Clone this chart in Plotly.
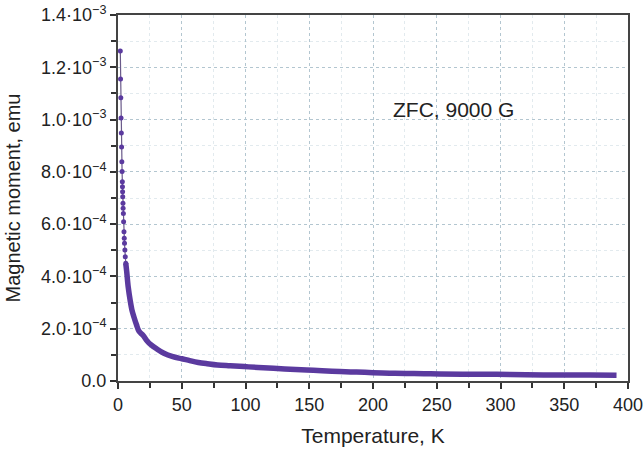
import plotly.graph_objects as go

# Low-temperature discrete points (K, emu)
t_low = [1.8, 2.0, 2.2, 2.4, 2.6, 2.8, 3.0, 3.2, 3.4, 3.5, 3.6, 3.7, 3.9, 4.0, 4.2,
         4.4, 4.7, 4.9, 5.1, 5.4, 5.7, 6.1]
m_low = [1.262e-3, 1.155e-3, 1.083e-3, 1.006e-3, 0.949e-3, 0.895e-3, 0.839e-3,
         0.801e-3, 0.762e-3, 0.743e-3, 0.724e-3, 0.705e-3, 0.680e-3, 0.661e-3,
         0.641e-3, 0.609e-3, 0.571e-3, 0.546e-3, 0.527e-3, 0.501e-3, 0.475e-3,
         0.450e-3]

# Dense tail (K, emu)
t_tail = [6.1, 6.8, 8.0, 9.5, 11, 12.5, 14.5, 16.5, 19.6, 23, 26, 30, 36, 43, 50, 57,
          63, 70, 78, 88, 99, 110, 122, 135, 148, 160, 174, 187, 200, 213, 226, 240,
          252, 270, 297, 320, 349, 370, 391]
m_tail = [0.450e-3, 0.420e-3, 0.360e-3, 0.310e-3, 0.270e-3, 0.245e-3, 0.215e-3,
          0.190e-3, 0.175e-3, 0.152e-3, 0.138e-3, 0.124e-3, 0.106e-3, 0.093e-3,
          0.085e-3, 0.077e-3, 0.071e-3, 0.066e-3, 0.061e-3, 0.058e-3, 0.055e-3,
          0.052e-3, 0.0486e-3, 0.045e-3, 0.042e-3, 0.039e-3, 0.036e-3, 0.034e-3,
          0.032e-3, 0.030e-3, 0.029e-3, 0.028e-3, 0.027e-3, 0.026e-3, 0.0256e-3,
          0.024e-3, 0.023e-3, 0.023e-3, 0.022e-3]

x_ticks = [0, 50, 100, 150, 200, 250, 300, 350, 400]
y_ticks = [0, 2e-4, 4e-4, 6e-4, 8e-4, 1.0e-3, 1.2e-3, 1.4e-3]
y_labels = ["0.0", "2.0·10<sup>−4</sup>", "4.0·10<sup>−4</sup>", "6.0·10<sup>−4</sup>",
            "8.0·10<sup>−4</sup>", "1.0·10<sup>−3</sup>", "1.2·10<sup>−3</sup>",
            "1.4·10<sup>−3</sup>"]

purple = "#5b3a9f"
font = "Liberation Sans, Arial, sans-serif"

fig = go.Figure()
fig.add_trace(go.Scatter(x=t_tail, y=m_tail, mode="lines",
                         line=dict(color=purple, width=5.5, shape="spline"),
                         hoverinfo="skip", showlegend=False))
fig.add_trace(go.Scatter(x=t_low, y=m_low, mode="lines+markers",
                         line=dict(color="#6a5a8a", width=1.2),
                         marker=dict(color=purple, size=5),
                         showlegend=False))

fig.add_annotation(x=263.5, y=1.037e-3, xref="x", yref="y", text="ZFC, 9000 G",
                   showarrow=False, xanchor="center", yanchor="middle",
                   font=dict(family=font, size=21, color="#222"))

axis_common = dict(
    showline=True, linecolor="#444", linewidth=2, mirror=True,
    ticks="outside", ticklen=6, tickwidth=1.5, tickcolor="#333",
    showgrid=True, gridcolor="#b3c6d0", gridwidth=1, griddash="dot",
    zeroline=False, automargin=False, ticklabeloverflow="allow",
    tickfont=dict(family=font, size=18, color="#222"),
)

fig.update_xaxes(
    range=[0, 400], tickvals=x_ticks,
    minor=dict(dtick=25, ticks="outside", ticklen=5, tickcolor="#333",
               showgrid=True, gridcolor="#e2eaee", griddash="dot"),
    title=dict(text="Temperature, K", font=dict(family=font, size=21, color="#222")),
    **axis_common)
fig.update_yaxes(
    range=[0, 1.4e-3], tickvals=y_ticks, ticktext=y_labels,
    minor=dict(dtick=1e-4, ticks="outside", ticklen=5, tickcolor="#333",
               showgrid=True, gridcolor="#e2eaee", griddash="dot"),
    title=dict(text="Magnetic moment, emu", font=dict(family=font, size=20, color="#222")),
    **axis_common)

fig.update_layout(
    width=643, height=451,
    margin=dict(l=118, r=15, t=15, b=70),
    plot_bgcolor="white", paper_bgcolor="white",
    font=dict(family=font),
)

# Remove the page's default body margin so the figure fills the window exactly.
fig.write_html(
    "out.html",
    config={"displayModeBar": False},
    post_script="document.body.style.margin='0';document.body.style.overflow='hidden';",
)
